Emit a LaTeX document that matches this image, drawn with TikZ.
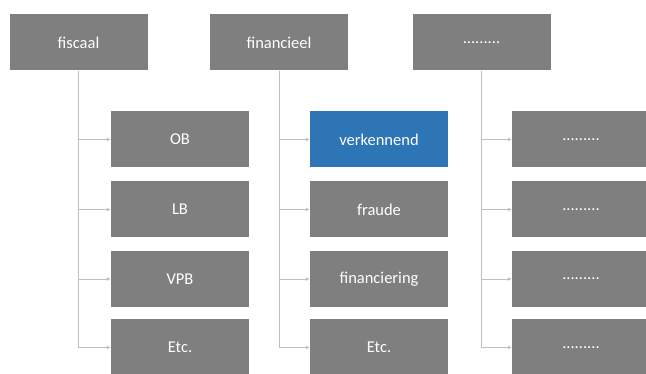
\documentclass[tikz,border=0pt]{standalone}
\usepackage{fontspec}
\setmainfont{Carlito}
\usetikzlibrary{arrows.meta}
\definecolor{boxgray}{RGB}{127,127,127}
\definecolor{boxblue}{RGB}{46,117,182}
\definecolor{linegray}{RGB}{191,191,191}
\begin{document}
\begin{tikzpicture}[x=1pt, y=-1pt,
  box/.style={fill=boxgray, text=white, minimum width=138pt, minimum height=56pt, inner sep=0pt, font=\fontsize{16.5}{19}\selectfont},
  hilite/.style={box, fill=boxblue},
  link/.style={draw=linegray, line width=0.9pt, -{Latex[length=4pt,width=4pt]}}]
\useasboundingbox (0,0) rectangle (646,374);
% top row
\node[box] (fisc) at (78.5,42.5) {fiscaal};
\node[box] (fin) at (279,42.5) {financieel};
\node[box] (other) at (481.5,42.5) {.........};
% fiscaal
\node[box] (ob) at (180,139.5) {OB};
\node[box] (lb) at (180,209.5) {LB};
\node[box] (vpb) at (180,279) {VPB};
\node[box] (etcA) at (180,347.5) {Etc.};
% financieel
\node[hilite] (verk) at (379,139.5) {verkennend};
\node[box] (fraude) at (379,209.5) {fraude};
\node[box] (financ) at (379,279) {financiering};
\node[box] (etcB) at (379,347.5) {Etc.};
% overig
\node[box] (dotsA) at (581,139.5) {.........};
\node[box] (dotsB) at (581,209.5) {.........};
\node[box] (dotsC) at (581,279) {.........};
\node[box] (dotsD) at (581,347.5) {.........};
\draw[link] (fisc.south) |- (ob);
\draw[link] (fisc.south) |- (lb);
\draw[link] (fisc.south) |- (vpb);
\draw[link] (fisc.south) |- (etcA);
\draw[link] (fin.south) |- (verk);
\draw[link] (fin.south) |- (fraude);
\draw[link] (fin.south) |- (financ);
\draw[link] (fin.south) |- (etcB);
\draw[link] (other.south) |- (dotsA);
\draw[link] (other.south) |- (dotsB);
\draw[link] (other.south) |- (dotsC);
\draw[link] (other.south) |- (dotsD);
\end{tikzpicture}
\end{document}
